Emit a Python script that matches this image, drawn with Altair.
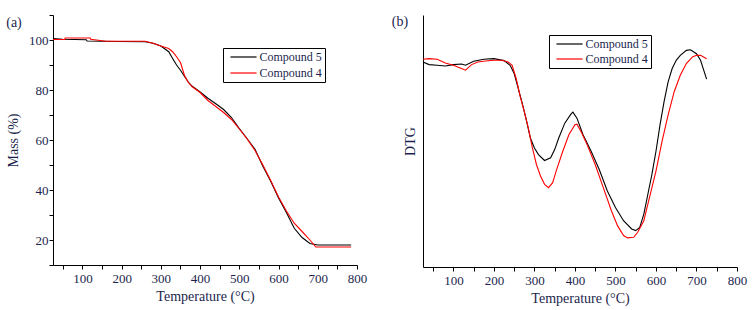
import altair as alt
import pandas as pd

FONT = "Liberation Serif, Times New Roman, serif"
TXT = "#1c1f4d"

series_names = ["Compound 5", "Compound 4"]
series_colors = ["#000000", "#ff0000"]
panel_labels = ["(a)", "(b)"]

# ---- (a) TGA mass loss ----
tga_t5 = [25, 50, 110, 112, 190, 260, 280, 300, 320, 330, 340, 350, 360, 370, 380, 400,
          420, 440, 460, 480, 500, 520, 540, 560, 580, 600, 620, 640, 660, 680, 700, 785]
tga_m5 = [100.6, 100.3, 100.1, 99.6, 99.4, 99.3, 98.7, 97.6, 95.3, 92.6, 90.0, 87.9, 85.5, 83.2, 81.5, 79.2,
          76.7, 74.5, 72.2, 69.0, 64.6, 60.5, 56.3, 49.5, 43.5, 36.8, 31.0, 24.7, 21.0, 18.6, 18.0, 18.0]
tga_t4 = [25, 55, 56, 120, 121, 160, 260, 280, 300, 320, 330, 340, 350, 360, 370, 380, 400,
          420, 440, 460, 480, 500, 520, 540, 560, 580, 600, 620, 640, 660, 680, 695, 785]
tga_m4 = [100.2, 100.2, 100.8, 100.8, 100.3, 99.5, 99.5, 98.7, 97.6, 96.6, 95.3, 93.3, 91.0, 85.9, 83.0, 81.3, 79.0,
          75.8, 73.4, 71.0, 68.2, 64.4, 60.4, 55.8, 50.0, 43.8, 37.2, 31.6, 26.7, 23.4, 20.0, 17.2, 17.2]

# ---- (b) DTG (arbitrary units) ----
dtg_t5 = [25, 40, 60, 80, 100, 120, 130, 150, 175, 200, 225, 240, 250, 260, 270, 280, 290, 300, 310, 325,
          340, 350, 360, 375, 390, 395, 405, 420, 440, 460, 480, 500, 520, 540, 550, 560, 570, 580, 590,
          600, 610, 620, 630, 640, 650, 660, 675, 685, 700, 710, 725]
dtg_v5 = [62.0, 61.2, 61.0, 60.8, 61.2, 61.4, 61.0, 62.2, 62.8, 63.0, 62.4, 61.0, 58.5, 54.0, 49.5, 44.5,
          39.0, 36.0, 34.0, 32.2, 33.0, 35.5, 39.0, 43.5, 46.2, 46.8, 45.0, 40.0, 35.0, 29.5, 23.0, 18.0,
          14.0, 11.5, 11.0, 12.0, 16.0, 22.0, 28.0, 35.0, 43.0, 50.0, 56.0, 60.0, 62.5, 64.0, 65.5, 65.7,
          64.5, 62.5, 56.8]
dtg_t4 = [25, 40, 60, 80, 100, 120, 130, 145, 160, 180, 200, 220, 235, 245, 255, 265, 275, 285, 295, 305,
          315, 325, 335, 345, 355, 370, 385, 400, 405, 415, 430, 450, 470, 490, 505, 520, 530, 545, 555,
          570, 580, 600, 615, 630, 645, 660, 675, 690, 700, 710, 725]
dtg_v4 = [62.8, 63.0, 62.8, 61.7, 61.0, 60.0, 59.5, 61.2, 62.0, 62.3, 62.5, 62.5, 62.0, 61.0, 57.0, 51.5,
          47.0, 42.0, 36.0, 31.0, 27.5, 25.0, 24.0, 25.5, 29.5, 35.0, 40.0, 43.0, 43.2, 41.0, 37.0, 31.0,
          24.0, 17.0, 12.5, 9.5, 8.8, 9.0, 10.5, 14.0, 19.0, 29.0, 38.0, 46.0, 53.0, 58.0, 61.5, 63.5,
          64.0, 64.0, 63.0]

tga = pd.DataFrame({
    "T": tga_t5 + tga_t4,
    "v": tga_m5 + tga_m4,
    "s": [series_names[0]] * len(tga_t5) + [series_names[1]] * len(tga_t4),
})
dtg = pd.DataFrame({
    "T": dtg_t5 + dtg_t4,
    "v": dtg_v5 + dtg_v4,
    "s": [series_names[0]] * len(dtg_t5) + [series_names[1]] * len(dtg_t4),
})

color_scale = alt.Scale(domain=series_names, range=series_colors)


def legend(x, y, row_pad):
    return alt.Legend(
        title=None, orient="none", legendX=x, legendY=y,
        strokeColor="black", fillColor="white", padding=3,
        symbolType="M-2.9,0H2.9", symbolSize=81, symbolStrokeWidth=1.2,
        symbolOffset=11.5,
        labelFont=FONT, labelFontSize=12, labelColor=TXT, labelOffset=10,
        rowPadding=row_pad,
    )


def x_axis():
    return alt.Axis(
        values=list(range(50, 801, 50)),
        labelExpr="datum.value % 100 == 0 ? datum.label : ''",
        labelFontSize={"condition": {"test": "datum.value % 100 != 0", "value": 0}, "value": 13},
        labelOverlap=False, labelFlush=False, labelBound=False,
        title="Temperature (°C)", tickSize=4, labelPadding=3, titlePadding=4,
    )


x_scale = alt.Scale(domain=[25, 800], nice=False, zero=False)

left_lines = alt.Chart(tga).mark_line(strokeWidth=1.1, interpolate="linear").encode(
    x=alt.X("T:Q", scale=x_scale, axis=x_axis()),
    y=alt.Y("v:Q", scale=alt.Scale(domain=[10, 110], nice=False),
            axis=alt.Axis(values=list(range(10, 111, 10)),
                          labelExpr="datum.value % 20 == 0 && datum.value < 110 ? datum.label : ''",
                          labelFontSize={"condition": {"test": "datum.value % 20 != 0 || datum.value > 100",
                                                       "value": 0}, "value": 13},
                          labelOverlap=False, labelFlush=False, labelBound=False,
                          title="Mass (%)", tickSize=4, labelPadding=1, titlePadding=8)),
    color=alt.Color("s:N", scale=color_scale, sort=series_names, legend=legend(170, 33, 4)),
    order=alt.Order("s:N", sort="descending"),
)
left_lab = alt.Chart(pd.DataFrame({"t": [panel_labels[0]]})).mark_text(
    font=FONT, fontSize=14, color=TXT, align="center", baseline="middle"
).encode(text="t:N", x=alt.value(-39), y=alt.value(8))
left = alt.layer(left_lines, left_lab).properties(width=304, height=250)

right_lines = alt.Chart(dtg).mark_line(strokeWidth=1.1, interpolate="linear").encode(
    x=alt.X("T:Q", scale=x_scale, axis=x_axis()),
    y=alt.Y("v:Q", scale=alt.Scale(domain=[0, 76.2], nice=False),
            axis=alt.Axis(values=[], labels=False, ticks=False, title="DTG", titlePadding=6)),
    color=alt.Color("s:N", scale=color_scale, sort=series_names, legend=legend(126, 20, 3)),
    order=alt.Order("s:N", sort="descending"),
)
right_lab = alt.Chart(pd.DataFrame({"t": [panel_labels[1]]})).mark_text(
    font=FONT, fontSize=14, color=TXT, align="center", baseline="middle"
).encode(text="t:N", x=alt.value(-23), y=alt.value(7))
right = alt.layer(right_lines, right_lab).properties(width=314, height=252)

chart = alt.hconcat(left, right, spacing=66, bounds="flush").resolve_legend(
    color="independent"
).properties(
    padding={"left": 6, "top": 14, "right": 4, "bottom": 4},
    background="white",
).configure_view(stroke=None).configure_axis(
    grid=False, domainColor="black", tickColor="black", domainWidth=1, tickWidth=1,
    labelFont=FONT, labelColor=TXT,
    titleFont=FONT, titleFontSize=14, titleColor=TXT, titleFontWeight="normal",
).configure_legend(
    labelFont=FONT, labelFontSize=12, labelColor=TXT,
)

chart.save("out.html", embed_options={"renderer": "svg", "actions": False})
